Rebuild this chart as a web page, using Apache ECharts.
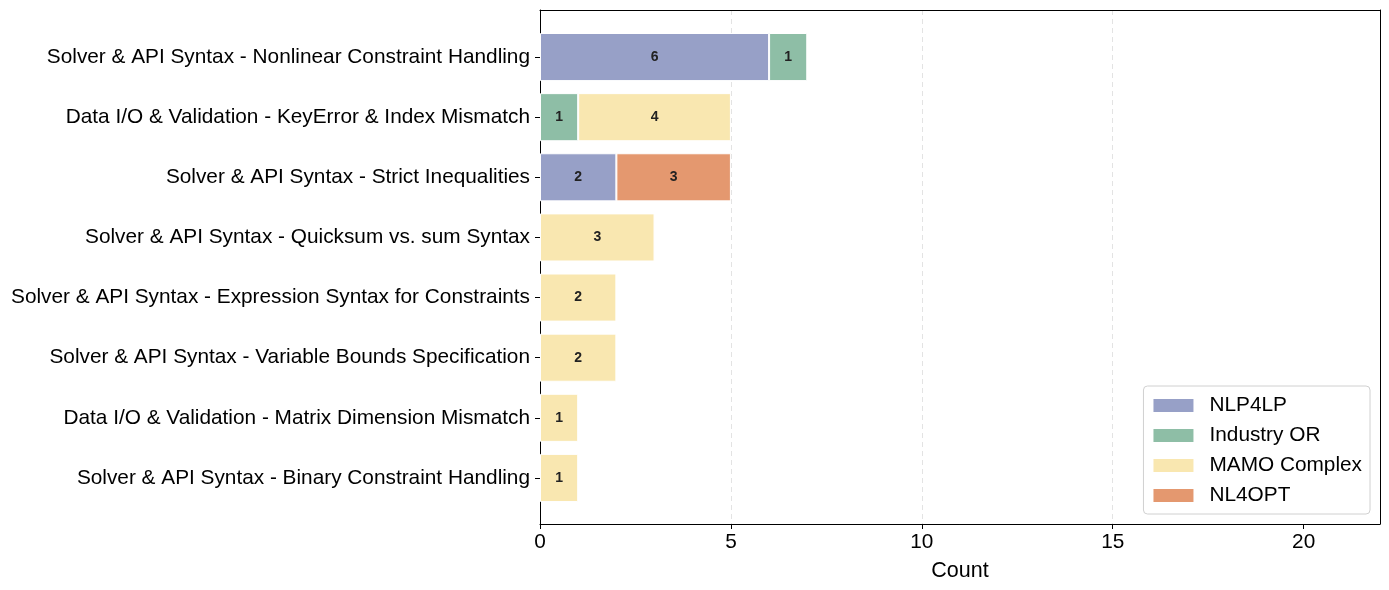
<!DOCTYPE html>
<html>
<head>
<meta charset="utf-8">
<script src="https://cdn.jsdelivr.net/npm/echarts@6/dist/echarts.min.js"></script>
<style>html,body{margin:0;padding:0;background:#fff}#c{width:1389px;height:590px}</style>
</head>
<body>
<div id="c"></div>
<script>
const categories = [
  "Solver & API Syntax - Nonlinear Constraint Handling",
  "Data I/O & Validation - KeyError & Index Mismatch",
  "Solver & API Syntax - Strict Inequalities",
  "Solver & API Syntax - Quicksum vs. sum Syntax",
  "Solver & API Syntax - Expression Syntax for Constraints",
  "Solver & API Syntax - Variable Bounds Specification",
  "Data I/O & Validation - Matrix Dimension Mismatch",
  "Solver & API Syntax - Binary Constraint Handling"
];
const seriesNames = ["NLP4LP", "Industry OR", "MAMO Complex", "NL4OPT"];
const nlp4lp     = [6, 0, 2, 0, 0, 0, 0, 0];
const industryOR = [1, 1, 0, 0, 0, 0, 0, 0];
const mamo       = [0, 4, 0, 3, 2, 2, 1, 1];
const nl4opt     = [0, 0, 3, 0, 0, 0, 0, 0];
const xTickValues = [0, 5, 10, 15, 20];
const xRange = { min: 0, max: 22 };

const colors = ["#97A0C7", "#8EBEA6", "#F9E7B0", "#E4986F"];
const FONT = "Liberation Sans, Arial, sans-serif";
const FS = 20.8;
const allData = [nlp4lp, industryOR, mamo, nl4opt];

const chart = echarts.init(document.getElementById('c'), null, {renderer: 'canvas'});
const frameLine = { show: true, onZero: false, lineStyle: { color: '#000', width: 1 } };
chart.setOption({
  animation: false,
  textStyle: { fontFamily: FONT },
  grid: [
    { left: 540, right: 9, top: 10, bottom: 66 },
    { left: 540, right: 9, top: 27, bottom: 82 }
  ],
  xAxis: [
    { gridIndex: 0, type: 'value', min: xRange.min, max: xRange.max, position: 'bottom',
      axisLine: frameLine,
      axisTick: { show: true, length: 5, customValues: xTickValues, lineStyle: { color: '#000' } },
      axisLabel: { fontSize: FS, color: '#000', margin: 8, fontFamily: FONT, customValues: xTickValues },
      splitLine: { show: true, showMinLine: false, showMaxLine: false, lineStyle: { type: [5, 4], color: '#e3e3e3', width: 1 } },
      name: 'Count', nameLocation: 'middle', nameGap: 36,
      nameTextStyle: { fontSize: 21.5, color: '#000', fontFamily: FONT } },
    { gridIndex: 1, type: 'value', min: xRange.min, max: xRange.max, show: false },
    { gridIndex: 0, type: 'value', min: xRange.min, max: xRange.max, position: 'top',
      axisLine: frameLine, axisTick: { show: false }, axisLabel: { show: false }, splitLine: { show: false } }
  ],
  yAxis: [
    { gridIndex: 0, type: 'value', min: 0, max: 1, position: 'left',
      axisLine: frameLine, axisTick: { show: false }, axisLabel: { show: false }, splitLine: { show: false } },
    { gridIndex: 1, type: 'category', data: categories, inverse: true,
      axisLine: { show: false },
      axisTick: { show: true, alignWithLabel: true, length: 5, lineStyle: { color: '#000' } },
      axisLabel: { fontSize: FS, color: '#000', margin: 10, fontFamily: FONT },
      splitLine: { show: false } },
    { gridIndex: 0, type: 'value', min: 0, max: 1, position: 'right',
      axisLine: frameLine, axisTick: { show: false }, axisLabel: { show: false }, splitLine: { show: false } }
  ],
  legend: {
    orient: 'vertical', right: 19, bottom: 76,
    data: seriesNames,
    itemWidth: 42, itemHeight: 15, itemGap: 9,
    icon: 'rect',
    backgroundColor: 'rgba(255,255,255,0.8)', borderColor: '#d0d0d0', borderWidth: 1, borderRadius: 4,
    padding: [9, 8, 8, 8],
    textStyle: { fontSize: FS, color: '#000', fontFamily: FONT, padding: [0, 0, 0, 10] }
  },
  series: seriesNames.map((name, i) => ({
    name, type: 'bar', stack: 'total', xAxisIndex: 1, yAxisIndex: 1,
    barWidth: '80%',
    data: allData[i].map(v => v === 0 ? '-' : v),
    itemStyle: { color: colors[i], borderColor: '#fff', borderWidth: 1 },
    label: { show: true, position: 'inside', fontSize: 14, fontWeight: 'bold', color: '#222', fontFamily: FONT,
      formatter: p => (p.value ? String(p.value) : '') }
  }))
});
</script>
</body>
</html>
